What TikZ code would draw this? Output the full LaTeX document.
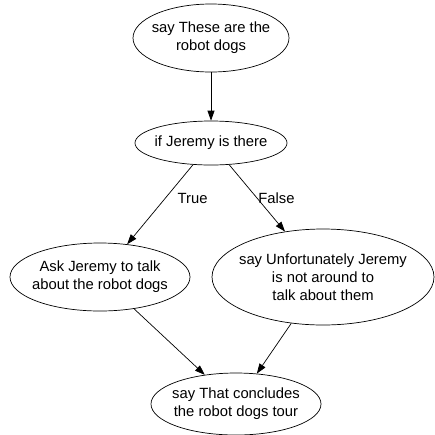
\documentclass[tikz,border=0pt]{standalone}
\usepackage{fontspec}
\setmainfont{Liberation Sans}
\usetikzlibrary{shapes.geometric,arrows.meta}
\tikzset{
  stmt/.style={draw,ellipse,inner xsep=-20pt,inner ysep=-10pt,align=center,line width=0.7pt,
    font=\fontsize{14.8}{18}\selectfont},
  flow/.style={-{Triangle[length=10pt,width=7pt]},line width=0.7pt},
  cond/.style={font=\fontsize{14.8}{18}\selectfont,inner sep=0pt}
}
\begin{document}
\begin{tikzpicture}[x=1pt,y=-1pt]
  \useasboundingbox (0,0) rectangle (435,434);
  % statement nodes
  \draw (211,38) node[stmt,minimum width=156,minimum height=68] (say1) {say These are the\\robot dogs};
  \draw (211,143) node[stmt,minimum width=152,minimum height=44] (ifj) {if Jeremy is there};
  \draw (100,277) node[stmt,minimum width=180,minimum height=68] (ask) {Ask Jeremy to talk\\about the robot dogs};
  \draw (323,277) node[stmt,minimum width=222,minimum height=96] (sorry) {say Unfortunately Jeremy\\is not around to\\talk about them};
  \draw (236,404) node[stmt,minimum width=170,minimum height=62] (done) {say That concludes\\the robot dogs tour};
  %
  % edges
  \path[flow]
    (say1) edge (ifj)
    (ifj) edge node[cond,pos=0.42,anchor=west,xshift=12] {True} (ask)
    (ifj) edge node[cond,pos=0.5,anchor=west,xshift=1] {False} (sorry);
  \path[flow]
    (ask) edge (done)
    (sorry) edge (done);
\end{tikzpicture}
\end{document}
